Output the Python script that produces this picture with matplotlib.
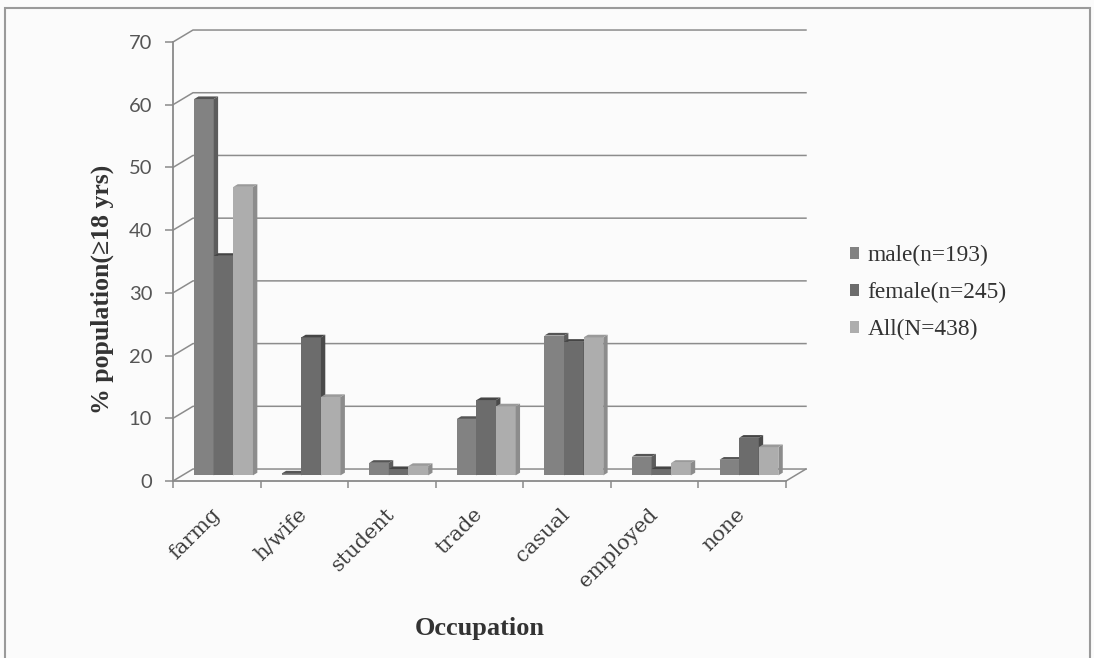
import numpy as np
import matplotlib.pyplot as plt
from matplotlib.patches import Polygon, Rectangle

occupations = ['farmg', 'h/wife', 'student', 'trade', 'casual', 'employed', 'none']
male = [60, 0.3, 2, 9, 22.3, 3, 2.5]
female = [35, 22, 1, 12, 21.3, 1, 6]
all_pop = [46, 12.5, 1.5, 11, 22, 2, 4.5]
series_labels = ['male(n=193)', 'female(n=245)', 'All(N=438)']
yticks = [0, 10, 20, 30, 40, 50, 60, 70]

# face colours: front, side, top
front_cols = ['#828282', '#6c6c6c', '#adadad']
side_cols = ['#5c5c5c', '#4a4a4a', '#8c8c8c']
top_cols = ['#555555', '#454545', '#9a9a9a']

# fake 3d: wall depth and bar depth in data units
DX, DY = 0.228, 1.91
BDX, BDY = 0.05, 0.42
BASE = 0.9
BAR_W = 0.224
GROUP_C = 0.577

bg = '#fbfbfb'
fig = plt.figure(figsize=(10.94, 6.58), dpi=100, facecolor=bg)
ax = fig.add_axes([0.15814, 0.269, 0.56033, 0.66717])
ax.set_facecolor('none')
ax.set_xlim(0, 7)
ax.set_ylim(0, 70)

grid_col = '#8c8c8c'
# side wall diagonals, back wall gridlines, floor
for v in yticks:
    ax.plot([0, DX, 7 + DX], [v, v + DY, v + DY], color=grid_col, lw=1.1,
            clip_on=False, zorder=1)
ax.plot([7, 7 + DX], [0, DY], color=grid_col, lw=1.1, clip_on=False, zorder=1)

# bars
x = np.arange(len(occupations))
for k, vals in enumerate([male, female, all_pop]):
    pos = x + GROUP_C + (k - 1) * BAR_W
    bars = ax.bar(pos, vals, width=BAR_W, bottom=BASE, color=front_cols[k],
                  edgecolor='none', zorder=3 + k, clip_on=False)
    for b in bars:
        x0 = b.get_x()
        x1 = x0 + b.get_width()
        y0 = b.get_y()
        y1 = y0 + b.get_height()
        side = Polygon([(x1, y0), (x1 + BDX, y0 + BDY), (x1 + BDX, y1 + BDY), (x1, y1)],
                       closed=True, fc=side_cols[k], ec='none', zorder=3 + k, clip_on=False)
        top = Polygon([(x0, y1), (x1, y1), (x1 + BDX, y1 + BDY), (x0 + BDX, y1 + BDY)],
                      closed=True, fc=top_cols[k], ec='none', zorder=3 + k, clip_on=False)
        ax.add_patch(side)
        ax.add_patch(top)

for s in ['top', 'right']:
    ax.spines[s].set_visible(False)
for s in ['left', 'bottom']:
    ax.spines[s].set_color('#8a8a8a')
    ax.spines[s].set_linewidth(1.3)
    ax.spines[s].set_zorder(2)

ax.set_yticks(yticks)
ax.tick_params(axis='y', direction='out', length=6, width=1.1, color='#8a8a8a',
               pad=9, labelsize=14.5, labelcolor='#555555')
for t in ax.get_yticklabels():
    t.set_fontfamily('Lato')

ax.set_xticks(x + 0.5)
ax.set_xticklabels(occupations, rotation=45, ha='right', va='center',
                   rotation_mode='anchor', fontsize=15, family='DejaVu Serif',
                   color='#3f3f3f')
ax.tick_params(axis='x', which='major', length=0, pad=22)
ax.set_xticks(np.arange(8), minor=True)
ax.tick_params(axis='x', which='minor', direction='out', length=5, width=1.1,
               color='#8a8a8a')

ax.set_ylabel('% population(\u226518 yrs)', family='Liberation Serif', fontsize=18.5,
              fontweight='bold', color='#333333')
ax.yaxis.set_label_coords(-0.096, 0.437)
ax.set_xlabel('Occupation', family='Liberation Serif', fontsize=19,
              fontweight='bold', color='#333333')
ax.xaxis.set_label_coords(0.5, -0.31)

handles = [Rectangle((0, 0), 1, 1, fc=front_cols[k], ec='none') for k in range(3)]
fig.legend(handles, series_labels, loc='upper left',
           bbox_to_anchor=(829 / 1094, 1 - 224 / 658), frameon=False,
           prop={'family': 'Liberation Serif', 'size': 16.8}, handlelength=0.4,
           handleheight=0.4, handletextpad=0.35, labelspacing=0.68,
           labelcolor='#333333')

# outer chart frame
fig.patches.append(Rectangle((5 / 1094, -0.01), 1085 / 1094, 1 - 8 / 658 + 0.01,
                             transform=fig.transFigure, fill=False, ec='#9a9a9a',
                             lw=1.5))

fig.savefig('out.png', dpi=100, facecolor=bg)
